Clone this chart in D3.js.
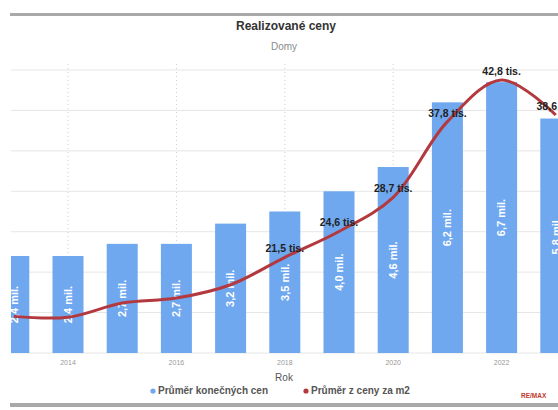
<!DOCTYPE html>
<html>
<head>
<meta charset="utf-8">
<script src="https://cdn.jsdelivr.net/npm/d3@7"></script>
<style>
  html, body { margin: 0; padding: 0; background: #fff; }
  svg { display: block; font-family: "Liberation Sans", Arial, sans-serif; }
</style>
</head>
<body>
<svg id="chart" width="558" height="410"></svg>
<script>
// Roky, průměrné konečné ceny (mil. Kč) a průměrné ceny za m2 (tis. Kč)
const years = [2013, 2014, 2015, 2016, 2017, 2018, 2019, 2020, 2021, 2022, 2023];
const avgPrice = [2.4, 2.4, 2.7, 2.7, 3.2, 3.5, 4.0, 4.6, 6.2, 6.7, 5.8];
const pricePerM2 = [14.4, 14.3, 16.0, 16.6, 18.2, 21.5, 24.6, 28.7, 37.8, 42.8, 38.6];
const labeledYears = [2018, 2019, 2020, 2021, 2022, 2023];
const tickYears = [2014, 2016, 2018, 2020, 2022];
const seriesNames = ["Průměr konečných cen", "Průměr z ceny za m2"];

const W = 558, H = 410;
const barColor = "#6fa8ef";
const lineColor = "#b3393f";
const svg = d3.select("#chart");

svg.append("rect").attr("width", W).attr("height", H).attr("fill", "#fff");

// clip region of the chart panel
svg.append("defs").append("clipPath").attr("id", "panel")
  .append("rect").attr("x", 11).attr("y", 0).attr("width", W - 11).attr("height", H);

// frame lines
svg.append("rect").attr("x", 10).attr("y", 13).attr("width", W - 10).attr("height", 3).attr("fill", "#a9a9a9");
svg.append("rect").attr("x", 10).attr("y", 403).attr("width", W - 10).attr("height", 4).attr("fill", "#a9a9a9");

// titles
svg.append("text").attr("x", 286).attr("y", 30).attr("text-anchor", "middle")
  .attr("font-size", 12).attr("font-weight", "bold").attr("fill", "#333")
  .text("Realizované ceny");
svg.append("text").attr("x", 284).attr("y", 50).attr("text-anchor", "middle")
  .attr("font-size", 10).attr("fill", "#8a8a8a")
  .text("Domy");

// scales
const x = d3.scaleBand().domain(years)
  .range([-13.3, 582.9]).paddingInner(0.428).paddingOuter(0.214);
const yBar = d3.scaleLinear().domain([0, 7]).range([353, 70]);
const yLine = d3.scaleLinear().domain([10, 44]).range([353, 70]);
const cx = d => x(d) + x.bandwidth() / 2;

const g = svg.append("g").attr("clip-path", "url(#panel)");

// horizontal gridlines
g.append("g").selectAll("line").data(yBar.ticks(7)).join("line")
  .attr("x1", 0).attr("x2", W)
  .attr("y1", d => yBar(d)).attr("y2", d => yBar(d))
  .attr("stroke", "#e6e6e6").attr("stroke-width", 1);

// vertical dotted gridlines
g.append("g").selectAll("line").data(tickYears).join("line")
  .attr("x1", d => cx(d)).attr("x2", d => cx(d))
  .attr("y1", 64).attr("y2", 353)
  .attr("stroke", "#cfcfcf").attr("stroke-width", 1).attr("stroke-dasharray", "1,3");

// bars
g.append("g").selectAll("rect").data(years).join("rect")
  .attr("x", d => x(d)).attr("width", x.bandwidth())
  .attr("y", (d, i) => yBar(avgPrice[i]))
  .attr("height", (d, i) => yBar(0) - yBar(avgPrice[i]))
  .attr("fill", barColor);

// bar value labels
const fmt = v => v.toFixed(1).replace(".", ",");
g.append("g").selectAll("text").data(years).join("text")
  .attr("transform", (d, i) => `translate(${cx(d)},${(yBar(avgPrice[i]) + yBar(0)) / 2}) rotate(-90)`)
  .attr("text-anchor", "middle").attr("dy", "0.35em")
  .attr("font-size", 11).attr("font-weight", "bold").attr("fill", "#fff")
  .text((d, i) => fmt(avgPrice[i]) + " mil.");

// smoothed line
const pts = years.map((d, i) => [cx(d), yLine(pricePerM2[i])]);
g.append("path")
  .attr("d", d3.line().curve(d3.curveCatmullRom.alpha(0.5))(pts))
  .attr("fill", "none").attr("stroke", lineColor).attr("stroke-width", 3)
  .attr("stroke-linejoin", "round");

// line value labels
g.append("g").selectAll("text").data(labeledYears).join("text")
  .attr("x", d => cx(d))
  .attr("y", d => yLine(pricePerM2[years.indexOf(d)]) - 5)
  .attr("text-anchor", "middle")
  .attr("font-size", 10.5).attr("font-weight", "bold").attr("fill", "#222")
  .text(d => fmt(pricePerM2[years.indexOf(d)]) + " tis.");

// x axis
const ax = svg.append("g").attr("transform", "translate(0,356)")
  .call(d3.axisBottom(x).tickValues(tickYears).tickSize(0).tickPadding(4));
ax.select(".domain").remove();
ax.selectAll("text").attr("font-size", 7).attr("fill", "#999")
  .attr("font-family", "Liberation Sans, Arial, sans-serif");

svg.append("text").attr("x", 284).attr("y", 381).attr("text-anchor", "middle")
  .attr("font-size", 10).attr("fill", "#555").text("Rok");

// legend
const legend = svg.append("g").attr("transform", "translate(0,394)");
const legendItems = [
  { name: seriesNames[0], color: barColor, x: 153 },
  { name: seriesNames[1], color: lineColor, x: 306 }
];
legendItems.forEach(it => {
  legend.append("circle").attr("cx", it.x).attr("cy", -3).attr("r", 2.6).attr("fill", it.color);
  legend.append("text").attr("x", it.x + 5).attr("y", 0)
    .attr("font-size", 10).attr("font-weight", "bold").attr("fill", "#555")
    .text(it.name);
});

// brand mark
svg.append("text").attr("x", 521).attr("y", 398)
  .attr("font-size", 6.5).attr("font-weight", "bold").attr("fill", "#c0392b")
  .text("RE/MAX");
</script>
</body>
</html>
